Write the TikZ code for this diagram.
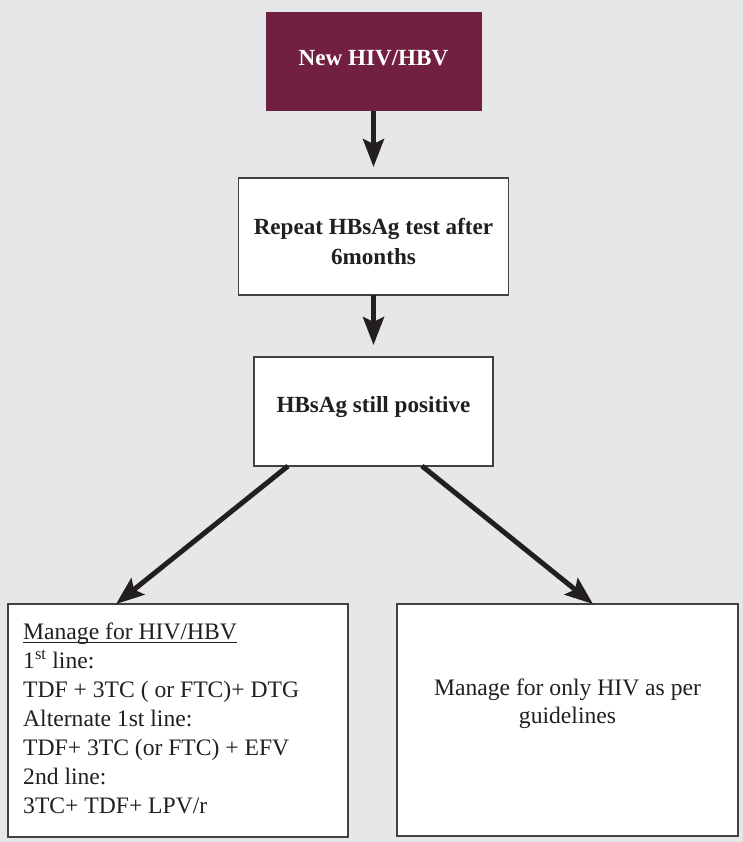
\documentclass[tikz,border=0pt]{standalone}
\usepackage{fontspec}
\setmainfont{Liberation Serif}
\usetikzlibrary{arrows.meta}
\definecolor{pageGray}{HTML}{E6E7E9}
\definecolor{wine}{HTML}{722040}
\definecolor{inkDark}{HTML}{231F20}
% underline drawn close under the baseline, crossing descenders
\newcommand{\baseunder}[1]{\setbox0\hbox{#1}\rlap{\rule[-3.2bp]{\wd0}{0.9bp}}\box0}
\begin{document}
\begin{tikzpicture}[x=1bp,y=-1bp,
  flowbox/.style={draw=inkDark!85, line width=1.2bp, fill=white, inner sep=0pt, outer sep=0pt},
  boldtxt/.style={font=\fontsize{23.2}{29.5}\selectfont\bfseries, text=inkDark, align=center, inner sep=0pt},
  plaintxt/.style={font=\fontsize{23.7}{29}\selectfont, text=inkDark, inner sep=0pt},
  flowarrow/.style={draw=inkDark, line width=5bp, -{Stealth[length=28bp,width=21bp,inset=5bp]}}]

% page background
\fill[pageGray] (0,0) rectangle (743,842);
\useasboundingbox (0,0) rectangle (743,842);

% boxes
\node[flowbox, fill=wine, draw=none, minimum width=216bp, minimum height=99bp] (start) at (373.5,61.5) {};
\node[flowbox, minimum width=270bp, minimum height=117bp] (repeat) at (373.5,236.5) {};
\node[flowbox, minimum width=239bp, minimum height=109bp] (still) at (373.5,411.5) {};
\node[flowbox, minimum width=340bp, minimum height=233bp] (hbvcare) at (178,720.5) {};
\node[flowbox, minimum width=341bp, minimum height=232bp] (hivcare) at (567.5,720) {};

% texts (base anchor = baseline of the last line)
\node[boldtxt, text=white, anchor=base] (startlbl) at (373.5,65) {New HIV/HBV};
\node[boldtxt, anchor=base] (repeatlbl) at (373.5,264) {Repeat HBsAg test after\\6months};
\node[boldtxt, anchor=base] (stilllbl) at (373.5,412) {HBsAg still positive};
\node[plaintxt, align=left, anchor=base west] (hbvlbl) at (23,813)
  {\baseunder{Manage for HIV/HBV}\\
   1\textsuperscript{st} line:\\
   TDF + 3TC ( or FTC)+ DTG\\
   Alternate 1st line:\\
   TDF+ 3TC (or FTC) + EFV\\
   2nd line:\\
   3TC+ TDF+ LPV/r};
\node[plaintxt, align=center, anchor=base, font=\fontsize{23.7}{28}\selectfont] (hivlbl) at (567.5,723)
  {Manage for only HIV as per\\guidelines};

% connectors
\draw[flowarrow, shorten >=11bp] (start.south) -- (repeat.north);
\draw[flowarrow, shorten >=12bp] (repeat.south) -- (still.north);
\draw[flowarrow] ([xshift=-85.5bp]still.south) -- ([xshift=-62bp]hbvcare.north);
\draw[flowarrow] ([xshift=48.5bp]still.south) -- ([xshift=25.5bp]hivcare.north);
\end{tikzpicture}
\end{document}
